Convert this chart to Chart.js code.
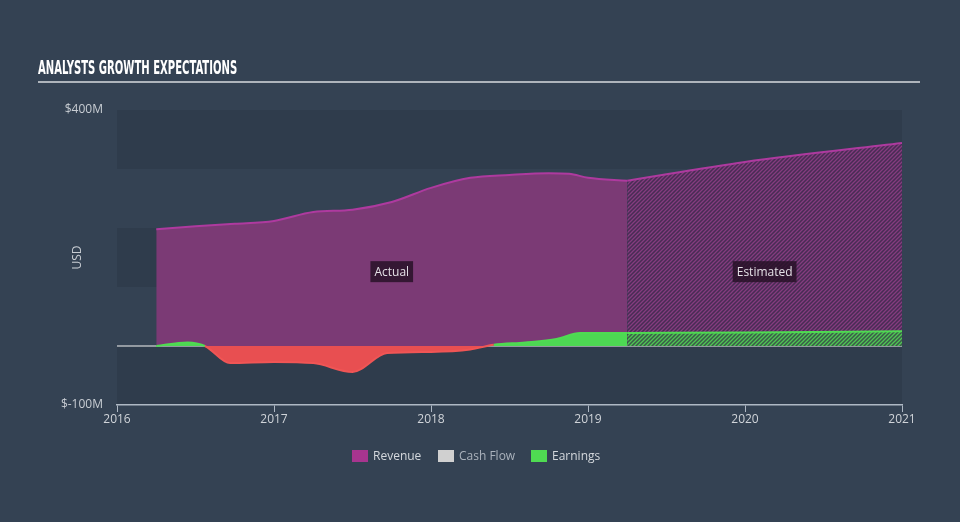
<!DOCTYPE html>
<html>
<head>
<meta charset="utf-8">
<script src="https://cdn.jsdelivr.net/npm/chart.js@4.4.1/dist/chart.umd.min.js"></script>
<style>
  html, body { margin: 0; padding: 0; background: #344253; }
  body { width: 960px; height: 522px; position: relative; overflow: hidden; font-family: "Open Sans", sans-serif; }
  #chart { position: absolute; left: 0; top: 0; }
  #title {
    position: absolute; left: 38px; top: 55px;
    font-family: "Liberation Sans Narrow", "DejaVu Sans Condensed", sans-serif;
    font-weight: bold; font-size: 20px; color: #ffffff; white-space: nowrap;
    transform-origin: left top; letter-spacing: 0px;
  }
  #rule { position: absolute; left: 38px; top: 81px; width: 882px; height: 2px; background: #aeb4bb; }
  #legend { position: absolute; top: 449px; left: 0; width: 960px; font-size: 12px; color: #d4d8dd; }
  .item { position: absolute; top: 0; height: 14px; line-height: 14px; }
  .sw { position: absolute; left: 0; top: 1px; width: 16px; height: 12px; }
  .lb { position: absolute; left: 21px; top: 0; white-space: nowrap; }
</style>
</head>
<body>
<canvas id="chart" width="960" height="522"></canvas>
<div id="title">ANALYSTS GROWTH EXPECTATIONS</div>
<div id="rule"></div>
<div id="legend">
  <div class="item" style="left:352px"><div class="sw" style="background:#a8358f"></div><div class="lb">Revenue</div></div>
  <div class="item" style="left:438px"><div class="sw" style="background:#d0d0d0"></div><div class="lb" style="color:#aab2bc">Cash Flow</div></div>
  <div class="item" style="left:531px"><div class="sw" style="background:#4fdb52"></div><div class="lb">Earnings</div></div>
</div>
<script>
// values in $M, x in decimal years
const revActualX = [2016.25, 2016.5, 2016.75, 2017.0, 2017.25, 2017.5, 2017.75, 2018.0, 2018.25, 2018.5, 2018.75, 2018.88, 2019.0, 2019.25];
const revActual  = [198, 203, 207, 212, 227, 231, 244, 268, 285, 290, 293, 292, 285, 280];
const revEstX = [2019.25, 2020.0, 2021.0];
const revEst  = [280, 312, 344];

const earnActualX = [2016.25, 2016.45, 2016.56, 2016.72, 2017.0, 2017.25, 2017.5, 2017.72, 2018.0, 2018.25, 2018.4, 2018.6, 2018.8, 2018.95, 2019.25];
const earnActual  = [0, 6, 0, -29, -27, -29, -44, -12, -10, -6, 2, 6, 12, 22, 22];
const earnEstX = [2019.25, 2020.0, 2021.0];
const earnEst  = [22, 23, 25];

const yearTicks = [2016, 2017, 2018, 2019, 2020, 2021];
const valueTicks = [-100, 400];
const bands = [[300, 400], [100, 200], [-100, 0]];
const regionLabels = [
  { text: 'Actual', from: 2016.25, to: 2019.25, y: 126 },
  { text: 'Estimated', from: 2019.25, to: 2021.0, y: 126 }
];

const pts = (xs, ys) => xs.map((x, i) => ({ x: x, y: ys[i] }));

function hatch(bg, fg) {
  const c = document.createElement('canvas');
  c.width = 4; c.height = 4;
  const g = c.getContext('2d');
  g.fillStyle = bg; g.fillRect(0, 0, 4, 4);
  g.strokeStyle = fg; g.lineWidth = 1.3;
  g.beginPath();
  g.moveTo(-1, 5); g.lineTo(5, -1);
  g.moveTo(-1, 1); g.lineTo(1, -1);
  g.moveTo(3, 5); g.lineTo(5, 3);
  g.stroke();
  return g.createPattern(c, 'repeat');
}

// title condensed to the reference width
const t = document.getElementById('title');
t.style.transform = 'scaleX(' + (199 / t.offsetWidth) + ')';

const ctx = document.getElementById('chart').getContext('2d');
const revHatch = hatch('#482c54', '#853c7f');
const earnHatch = hatch('#3b5a4a', '#4fc653');

const backdrop = {
  id: 'backdrop',
  beforeDraw(chart) {
    const { ctx, chartArea: a, scales: { y } } = chart;
    ctx.save();
    ctx.fillStyle = '#2f3c4c';
    bands.forEach(b => {
      const top = y.getPixelForValue(b[1]);
      const bot = y.getPixelForValue(b[0]);
      ctx.fillRect(a.left, top, a.right - a.left, bot - top);
    });
    ctx.restore();
  },
  beforeDatasetsDraw(chart) {
    const { ctx, chartArea: a, scales: { y } } = chart;
    const y0 = y.getPixelForValue(0);
    ctx.save();
    ctx.strokeStyle = '#b4b8bd';
    ctx.lineWidth = 1.5;
    ctx.beginPath();
    ctx.moveTo(a.left, y0); ctx.lineTo(a.right, y0);
    ctx.stroke();
    ctx.restore();
  },
  afterDraw(chart) {
    const { ctx, chartArea: a, scales: { x, y } } = chart;
    ctx.save();
    ctx.font = '12px "Open Sans", sans-serif';
    ctx.textAlign = 'center';
    ctx.textBaseline = 'middle';
    regionLabels.forEach(r => {
      const cx = x.getPixelForValue((r.from + r.to) / 2);
      const cy = y.getPixelForValue(r.y);
      const w = ctx.measureText(r.text).width + 8;
      ctx.fillStyle = 'rgba(40, 18, 40, 0.85)';
      ctx.fillRect(cx - w / 2, cy - 10.5, w, 21);
      ctx.fillStyle = '#e4e0e6';
      ctx.fillText(r.text, cx, cy + 0.5);
    });
    // USD axis label
    ctx.translate(78, (a.top + a.bottom) / 2);
    ctx.rotate(-Math.PI / 2);
    ctx.fillStyle = '#c8cdd3';
    ctx.fillText('USD', 0, 0);
    ctx.restore();
  }
};

new Chart(ctx, {
  type: 'line',
  data: {
    datasets: [
      {
        label: 'Earnings',
        data: pts(earnActualX, earnActual),
        borderColor: '#4fdb52',
        borderWidth: 2,
        segment: {
          borderColor: c => (c.p0.parsed.y < 0 || c.p1.parsed.y < 0) ? '#f05555' : '#4fdb52'
        },
        fill: { target: 'origin', above: '#4dd853', below: '#e84f51' },
        cubicInterpolationMode: 'monotone',
        pointRadius: 0
      },
      {
        label: 'Earnings est',
        data: pts(earnEstX, earnEst),
        borderColor: '#4fdb52',
        borderWidth: 2,
        backgroundColor: earnHatch,
        fill: 'origin',
        cubicInterpolationMode: 'monotone',
        pointRadius: 0
      },
      {
        label: 'Revenue',
        data: pts(revActualX, revActual),
        borderColor: '#ae3a9f',
        borderWidth: 2,
        backgroundColor: '#7b3a75',
        fill: 'origin',
        cubicInterpolationMode: 'monotone',
        pointRadius: 0
      },
      {
        label: 'Revenue est',
        data: pts(revEstX, revEst),
        borderColor: '#ae3a9f',
        borderWidth: 2,
        backgroundColor: revHatch,
        fill: 'origin',
        cubicInterpolationMode: 'monotone',
        pointRadius: 0
      }
    ]
  },
  options: {
    responsive: false,
    animation: false,
    layout: { padding: { left: 0, right: 58, top: 110, bottom: 87 } },
    plugins: {
      legend: { display: false },
      tooltip: { enabled: false }
    },
    scales: {
      x: {
        type: 'linear',
        min: 2016,
        max: 2021,
        afterBuildTicks: s => { s.ticks = yearTicks.map(v => ({ value: v })); },
        afterFit: s => { s.height = 30; },
        ticks: {
          color: '#d0d4d9',
          font: { size: 12, family: '"Open Sans", sans-serif' },
          padding: 0,
          maxRotation: 0,
          callback: v => String(v)
        },
        grid: { drawOnChartArea: false, drawTicks: true, tickLength: 7, color: '#aeb8c4' },
        border: { display: true, color: '#aeb8c4', width: 1.5 }
      },
      y: {
        min: -100,
        max: 400,
        afterBuildTicks: s => { s.ticks = valueTicks.map(v => ({ value: v })); },
        afterFit: s => { s.width = 117; },
        ticks: {
          color: '#c8cdd3',
          font: { size: 12, family: '"Open Sans", sans-serif' },
          padding: 14,
          callback: v => '$' + v + 'M'
        },
        grid: { display: false, drawTicks: false },
        border: { display: false }
      }
    }
  },
  plugins: [backdrop]
});
</script>
</body>
</html>
